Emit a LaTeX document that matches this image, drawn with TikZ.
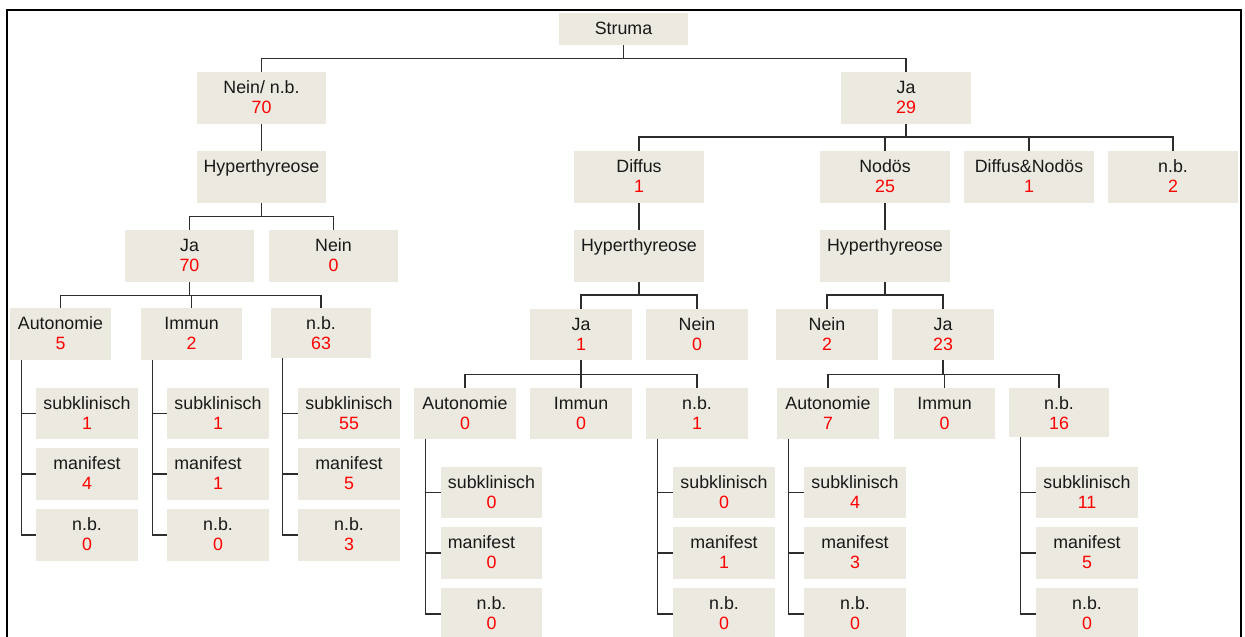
\documentclass[tikz,border=0pt]{standalone}
\usepackage{fontspec}
\setmainfont{Liberation Sans}
\usetikzlibrary{fit,calc}
\definecolor{boxfill}{RGB}{236,233,224}
\definecolor{numred}{RGB}{255,0,0}
\definecolor{linec}{RGB}{45,45,45}
\tikzset{
  boxst/.style={fill=boxfill, draw=none, inner sep=0pt},
  txt/.style={anchor=base, inner sep=0pt, font=\fontsize{17.8}{20}\selectfont, text=black!90},
  numst/.style={text=numred},
  conn/.style={draw=linec, line width=1.3pt},
  frame/.style={draw=black, line width=2.2pt}
}
\newcommand\mybox[8][0]{%
  \node[boxst, fit={(#3,#4) (#5,#6)}] (#2) {};
  \node[txt] at ([xshift=#1pt, yshift=-21.7pt]#2.north) {#7};
  \node[txt, numst] at ([yshift=-41.7pt]#2.north) {#8};
}
\newcommand\sidekids[4]{%
  \draw[conn] ([xshift=12pt]#1.south west) |- (#4.west);
  \draw[conn] ([xshift=12pt]#1.south west) |- (#2.west);
  \draw[conn] ([xshift=12pt]#1.south west) |- (#3.west);
}
\begin{document}
\begin{tikzpicture}[x=1pt, y=-1pt]
\useasboundingbox (0,0) rectangle (1245,637);
\draw[frame] (7,645) -- (7,10) -- (1241,10) -- (1241,645);

% top levels
\mybox{struma}{559}{13}{688}{45}{Struma}{}
\mybox{neinnb}{197}{72}{326}{124}{Nein/ n.b.}{70}
\mybox{jaB}{841}{72}{971}{124}{Ja}{29}

% left branch
\mybox{hypL}{197}{151}{326}{203}{Hyperthyreose}{}
\mybox{jaL}{125}{230}{254}{282}{Ja}{70}
\mybox{neinL}{269}{230}{398}{282}{Nein}{0}
\mybox{autoL}{10}{308}{111}{360}{Autonomie}{5}
\mybox{immL}{141}{308}{242}{360}{Immun}{2}
\mybox{nbL}{271}{308}{371}{358}{n.b.}{63}
\mybox{aL1}{36}{388}{138}{439}{subklinisch}{1}
\mybox{aL2}{36}{448}{138}{500}{manifest}{4}
\mybox{aL3}{36}{509}{138}{561}{n.b.}{0}
\mybox{iL1}{167}{388}{269}{439}{subklinisch}{1}
\mybox[-10]{iL2}{167}{448}{269}{500}{manifest}{1}
\mybox{iL3}{167}{509}{269}{561}{n.b.}{0}
\mybox{nL1}{298}{388}{400}{439}{subklinisch}{55}
\mybox{nL2}{298}{448}{400}{500}{manifest}{5}
\mybox{nL3}{298}{509}{400}{561}{n.b.}{3}

% middle branch
\mybox{diffus}{574}{151}{704}{203}{Diffus}{1}
\mybox{hypM}{574}{230}{704}{282}{Hyperthyreose}{}
\mybox{jaM}{530}{309}{632}{360}{Ja}{1}
\mybox{neinM}{646}{309}{748}{360}{Nein}{0}
\mybox{autoM}{414}{388}{516}{439}{Autonomie}{0}
\mybox{immM}{530}{388}{632}{439}{Immun}{0}
\mybox{nbM}{646}{388}{748}{439}{n.b.}{1}
\mybox{aM1}{441}{467}{542}{518}{subklinisch}{0}
\mybox[-10]{aM2}{441}{527}{542}{579}{manifest}{0}
\mybox{aM3}{441}{588}{542}{640}{n.b.}{0}
\mybox{nM1}{673}{467}{775}{518}{subklinisch}{0}
\mybox{nM2}{673}{527}{775}{579}{manifest}{1}
\mybox{nM3}{673}{588}{775}{640}{n.b.}{0}

% right branch
\mybox{nodos}{820}{151}{950}{203}{Nodös}{25}
\mybox{dn}{964}{151}{1094}{203}{Diffus\&Nodös}{1}
\mybox{nbR}{1108}{151}{1238}{203}{n.b.}{2}
\mybox{hypR}{820}{230}{950}{282}{Hyperthyreose}{}
\mybox{neinR}{776}{309}{878}{360}{Nein}{2}
\mybox{jaR}{892}{309}{994}{360}{Ja}{23}
\mybox{autoR}{777}{388}{879}{439}{Autonomie}{7}
\mybox{immR}{894}{388}{995}{439}{Immun}{0}
\mybox{nbRR}{1009}{388}{1109}{437}{n.b.}{16}
\mybox{aR1}{804}{467}{906}{518}{subklinisch}{4}
\mybox{aR2}{804}{527}{906}{579}{manifest}{3}
\mybox{aR3}{804}{588}{906}{640}{n.b.}{0}
\mybox{nR1}{1036}{467}{1138}{518}{subklinisch}{11}
\mybox{nR2}{1036}{527}{1138}{579}{manifest}{5}
\mybox{nR3}{1036}{588}{1138}{640}{n.b.}{0}

% connectors
\draw[conn] (struma.south) -- ++(0,13) coordinate (s1);
\draw[conn] (s1) -| (neinnb.north);
\draw[conn] (s1) -| (jaB.north);

\draw[conn] (neinnb.south) -- (hypL.north);
\draw[conn] (hypL.south) -- ++(0,13) coordinate (h1);
\draw[conn] (h1) -| (jaL.north);
\draw[conn] (h1) -| (neinL.north);
\draw[conn] (jaL.south) -- ++(0,13) coordinate (j1);
\draw[conn] (j1) -| (autoL.north);
\draw[conn] (j1) -| (immL.north);
\draw[conn] (j1) -| (nbL.north);
\sidekids{autoL}{aL1}{aL2}{aL3}
\sidekids{immL}{iL1}{iL2}{iL3}
\sidekids{nbL}{nL1}{nL2}{nL3}

\draw[conn] (jaB.south) -- ++(0,12.7) coordinate (b1);
\draw[conn] (b1) -| (diffus.north);
\draw[conn] (b1) -| (nodos.north);
\draw[conn] (b1) -| (dn.north);
\draw[conn] (b1) -| (nbR.north);

\draw[conn] (diffus.south) -- (hypM.north);
\draw[conn] (hypM.south) -- ++(0,12.7) coordinate (h2);
\draw[conn] (h2) -| (jaM.north);
\draw[conn] (h2) -| (neinM.north);
\draw[conn] (jaM.south) -- ++(0,14) coordinate (j2);
\draw[conn] (j2) -| (autoM.north);
\draw[conn] (j2) -| (immM.north);
\draw[conn] (j2) -| (nbM.north);
\sidekids{autoM}{aM1}{aM2}{aM3}
\sidekids{nbM}{nM1}{nM2}{nM3}

\draw[conn] (nodos.south) -- (hypR.north);
\draw[conn] (hypR.south) -- ++(0,12.7) coordinate (h3);
\draw[conn] (h3) -| (neinR.north);
\draw[conn] (h3) -| (jaR.north);
\draw[conn] (jaR.south) -- ++(0,14) coordinate (j3);
\draw[conn] (j3) -| (autoR.north);
\draw[conn] (j3) -| (immR.north);
\draw[conn] (j3) -| (nbRR.north);
\sidekids{autoR}{aR1}{aR2}{aR3}
\sidekids{nbRR}{nR1}{nR2}{nR3}
\end{tikzpicture}
\end{document}
